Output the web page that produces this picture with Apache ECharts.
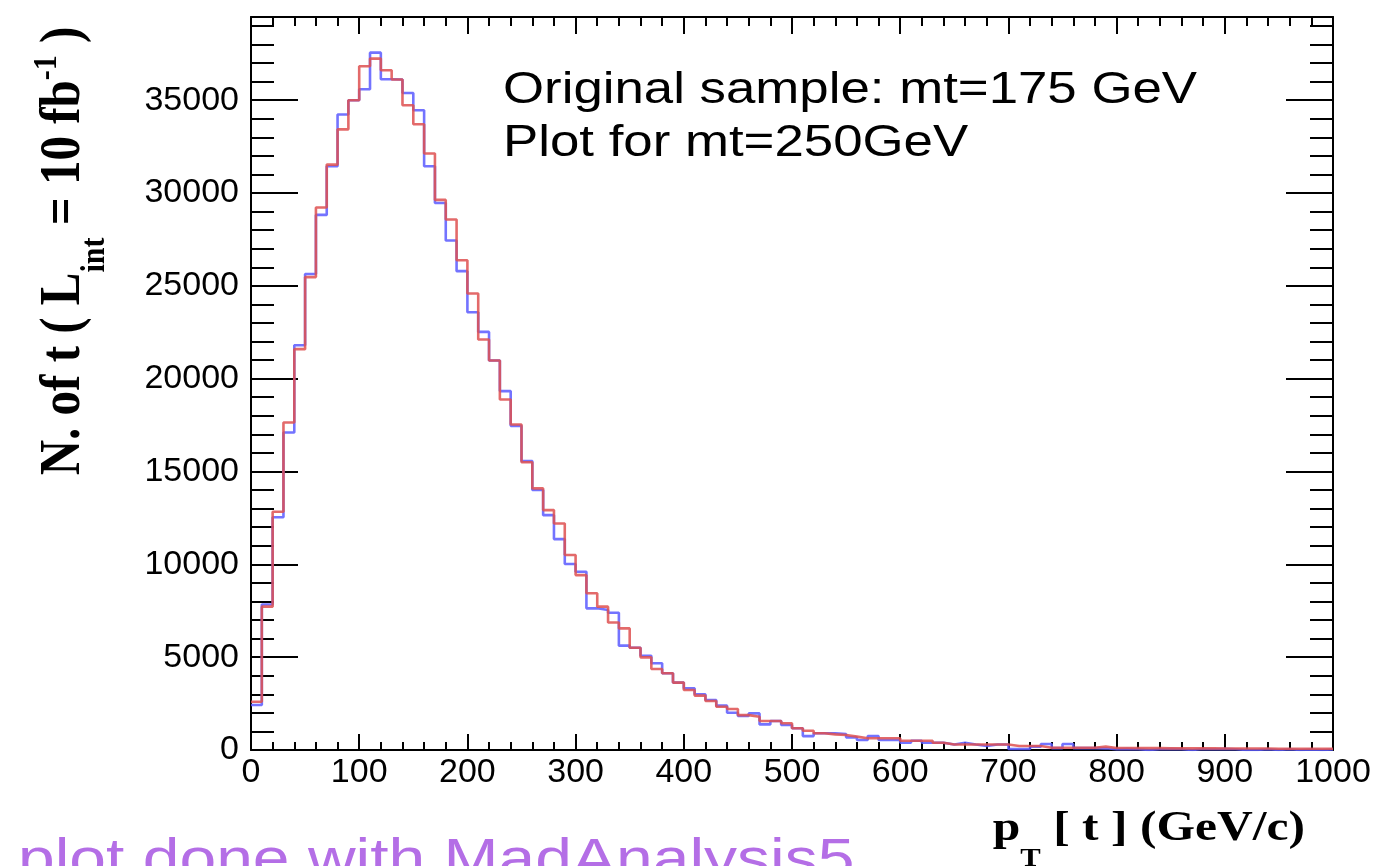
<!DOCTYPE html>
<html><head><meta charset="utf-8">
<script src="https://cdn.jsdelivr.net/npm/echarts@6/dist/echarts.min.js"></script>
<style>html,body{margin:0;padding:0;background:#fff}#c{width:1374px;height:866px}</style>
</head><body><div id="c"></div>
<script>
// bin edges of the pT histogram (GeV/c)
const binEdges = [0,10,20,30,40,50,60,70,80,90,100,110,120,130,140,150,160,170,180,190,200,210,220,230,240,250,260,270,280,290,300,310,320,330,340,350,360,370,380,390,400,410,420,430,440,450,460,470,480,490,500,510,520,530,540,550,560,570,580,590,600,610,620,630,640,650,660,670,680,690,700,710,720,730,740,750,760,770,780,790,800,810,820,830,840,850,860,870,880,890,900,910,920,930,940,950,960,970,980,990,1000];
// original sample (mt=175 GeV) - blue
const blueCounts = [
  2420,7840,12540,17100,21800,25640,28820,31440,34230,35000,
  35590,37560,36130,36110,35390,34460,31440,29460,27440,25790,
  23580,22520,20980,19330,17460,15560,14000,12650,11360,10020,
  9600,7630,7540,7390,5620,5510,5080,4670,4130,3630,
  3320,3000,2690,2390,2010,1830,1970,1380,1560,1350,
  1170,750,900,900,860,680,540,750,540,540,
  390,500,390,390,300,390,300,215,300,300,
  50,50,180,320,100,320,100,100,90,40,
  60,40,0,40,60,40,0,50,40,60,
  40,0,0,40,0,40,0,30,0,30];
// reweighted for mt=250 GeV - red
const redCounts = [
  2600,7720,12830,17640,21590,25470,29220,31530,33430,35000,
  36830,37240,36610,36110,34730,33700,32130,29630,28570,26380,
  24590,22110,20980,18880,17530,15500,14090,12920,12200,10500,
  9420,8440,7720,6870,6550,5510,4990,4360,4130,3630,
  3230,2930,2640,2330,2210,1880,1790,1560,1560,1440,
  1170,1040,900,840,810,720,630,630,630,630,
  500,500,500,390,300,300,300,300,300,300,
  215,215,215,125,125,125,125,125,180,110,
  110,100,100,100,90,90,90,90,90,80,
  80,80,80,80,70,70,70,70,70,70];
const xTicks = [0,100,200,300,400,500,600,700,800,900,1000];
const yTicks = [0,5000,10000,15000,20000,25000,30000,35000];
const xMin = 0, xMax = 1000, yMin = 0, yMax = 39480;
const annotation1 = 'Original sample: mt=175 GeV';
const annotation2 = 'Plot for mt=250GeV';
const footer = 'plot done with MadAnalysis5';

function steps(vals){
  const d = vals.map((v,i)=>[binEdges[i], v]);
  d.push([binEdges[vals.length], vals[vals.length-1]]);
  return d;
}

const chart = echarts.init(document.getElementById('c'), null, {renderer:'canvas'});
const black = '#000';
const lbl = {fontFamily:'Liberation Sans, Arial, sans-serif', fontSize:34, color:black};

function xAx(pos, labels, majorLen, minorLen){
  return {type:'value', position:pos, min:xMin, max:xMax, interval:100,
    axisLine:{show:true, onZero:false, lineStyle:{color:black,width:2}},
    axisTick:{show:true, inside:true, length:majorLen, lineStyle:{color:black,width:2}},
    minorTick:{show:true, splitNumber:5, length:minorLen, lineStyle:{color:black,width:2}},
    splitLine:{show:false},
    axisLabel: labels ? Object.assign({show:true, margin:6, formatter:v=>xTicks.includes(v)?String(v):''}, lbl) : {show:false}
  };
}
function yAx(pos, interval, labels, len, line){
  return {type:'value', position:pos, min:yMin, max:yMax, interval:interval,
    axisLine:{show:line, onZero:false, lineStyle:{color:black,width:2}},
    axisTick:{show:true, inside:true, length:len, lineStyle:{color:black,width:2}},
    splitLine:{show:false},
    axisLabel: labels ? Object.assign({show:true, margin:12, formatter:v=>yTicks.includes(v)?String(v):''}, lbl) : {show:false}
  };
}

const serif = 'Liberation Serif, Times New Roman, serif';

chart.setOption({
  animation:false,
  backgroundColor:'#fff',
  grid:{left:251, right:41, top:17, bottom:116, containLabel:false},
  xAxis:[xAx('bottom', true, 16, 8), xAx('top', false, 17, 9)],
  yAxis:[yAx('left',5000,true,47,true), yAx('left',1000,false,23,false),
         yAx('right',5000,false,47,true), yAx('right',1000,false,23,false)],
  series:[
    {type:'line', step:'end', symbol:'none', xAxisIndex:0, yAxisIndex:0, data:steps(blueCounts),
     lineStyle:{color:'rgba(90,90,255,0.85)', width:2.6}, z:3},
    {type:'line', step:'end', symbol:'none', xAxisIndex:0, yAxisIndex:0, data:steps(redCounts),
     lineStyle:{color:'rgba(222,80,80,0.85)', width:2.6}, z:4}
  ],
  graphic:[
    {type:'text', x:503, y:91, scaleX:1.2, style:{text:annotation1, font:'44px Liberation Sans, Arial, sans-serif', fill:'#000', align:'left', verticalAlign:'middle'}},
    {type:'text', x:503, y:144, scaleX:1.2, style:{text:annotation2, font:'44px Liberation Sans, Arial, sans-serif', fill:'#000', align:'left', verticalAlign:'middle'}},
    {type:'text', x:18, y:862, scaleX:1.2, style:{text:footer, font:'55px Liberation Sans, Arial, sans-serif', fill:'#b46ee6', align:'left', verticalAlign:'middle'}},
    {type:'text', x:1305, y:829, scaleX:1.18, style:{
      text:'{b|p}{s|T}{b| [ t ] (GeV/c)}', align:'right', verticalAlign:'middle',
      rich:{b:{font:'bold 42px '+serif, fill:'#000', lineHeight:46},
            s:{font:'bold 26px '+serif, fill:'#000', lineHeight:14, verticalAlign:'bottom', padding:[0,0,-20,0]}}}},
    {type:'text', x:64, y:251, rotation:Math.PI/2, scaleY:1.15, style:{
      text:'{b|N. of t ( L}{s|int}{b| = 10 fb}{p|-1}{b| )}', align:'center', verticalAlign:'middle',
      rich:{b:{font:'bold 49px '+serif, fill:'#000', lineHeight:52},
            s:{font:'bold 30px '+serif, fill:'#000', lineHeight:14, verticalAlign:'bottom', padding:[0,0,-16,0]},
            p:{font:'bold 30px '+serif, fill:'#000', lineHeight:14, verticalAlign:'top', padding:[-4,0,0,0]}}}}
  ]
});
</script></body></html>
